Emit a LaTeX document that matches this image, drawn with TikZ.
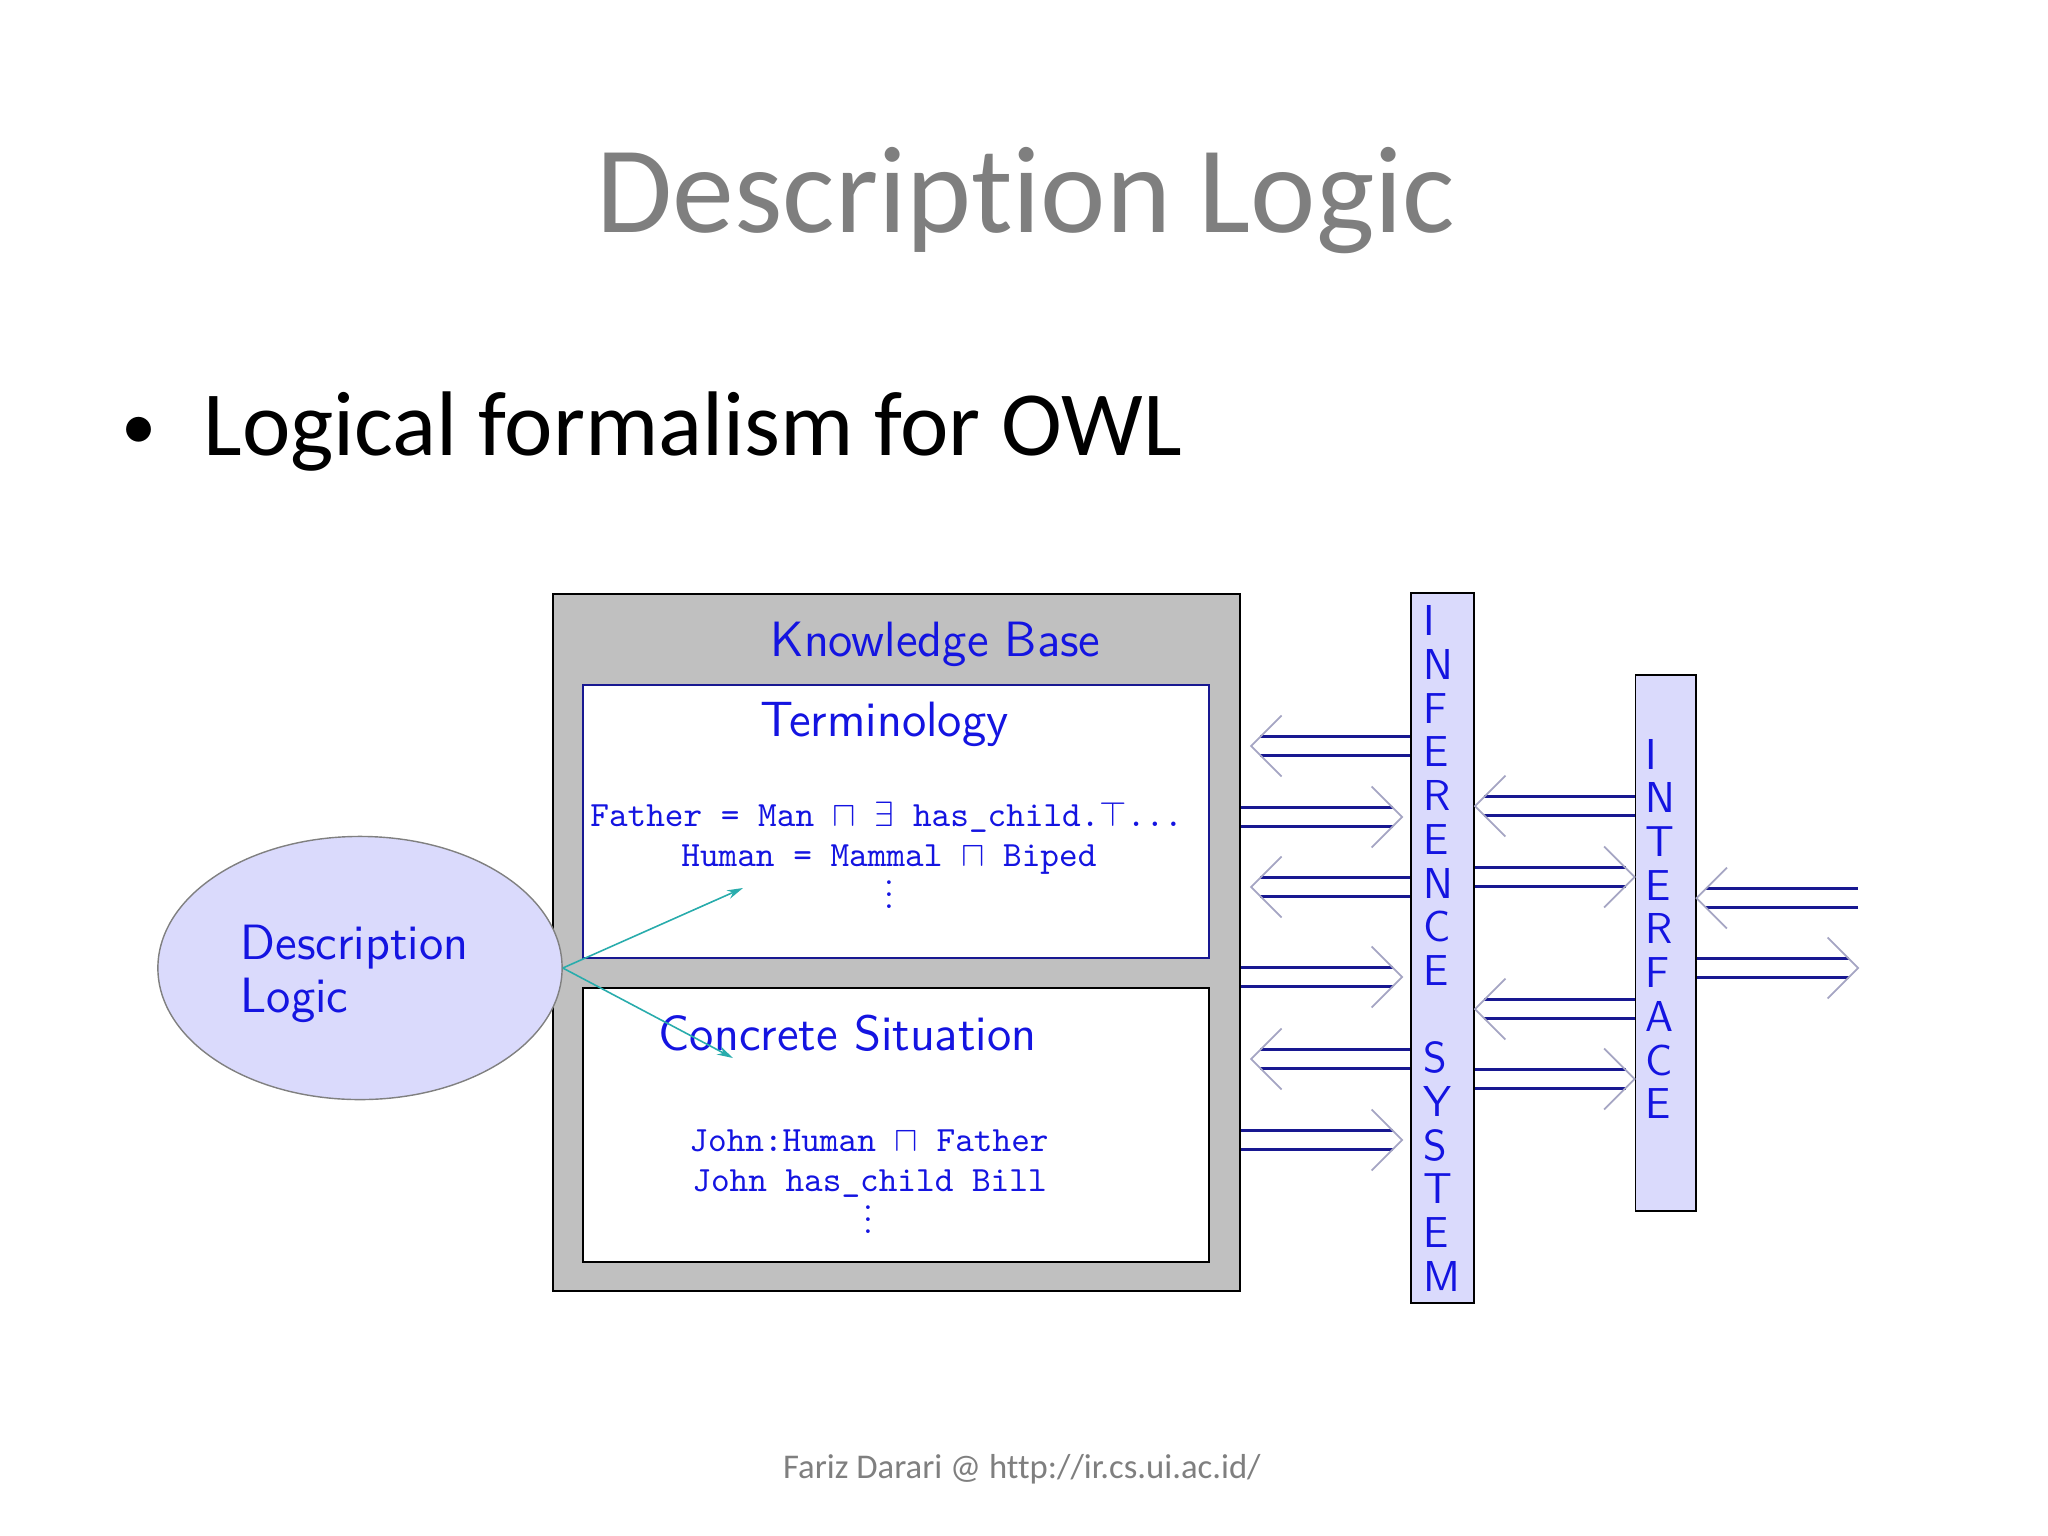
\documentclass[tikz,border=0pt]{standalone}
\usepackage{fontspec}
\newfontfamily\slidefont{Carlito}[Ligatures=NoCommon]
\usetikzlibrary{arrows.meta, positioning, shapes.geometric, calc}

\definecolor{kbgray}{RGB}{192,192,192}
\definecolor{lav}{RGB}{218,218,252}
\definecolor{txtblue}{RGB}{20,20,225}
\definecolor{navy}{RGB}{24,24,145}
\definecolor{chevc}{RGB}{165,165,195}
\definecolor{tealc}{RGB}{40,172,172}
\definecolor{slidegray}{RGB}{127,127,127}

\tikzset{
  box/.style={draw, rectangle, inner sep=0pt, line width=0.55pt},
  vbar/.style={box, fill=lav},
  lbl/.style={inner sep=0pt, anchor=base, text=txtblue, font=\sffamily\fontsize{14.1}{15.2}\selectfont},
  ax/.style={inner sep=0pt, anchor=base, text=txtblue, font=\ttfamily\fontsize{10.1}{12}\selectfont},
  vtext/.style={inner sep=0pt, anchor=north west, align=left, text=txtblue, font=\sffamily\fontsize{12.3}{12.43}\selectfont},
  dbl/.style={draw=navy, line width=0.7pt, double=white, double distance=0.165cm},
  chev/.style={draw=chevc, line width=0.5pt},
  dlarrow/.style={draw=tealc, line width=0.45pt, -{Stealth[length=0.16cm, width=0.09cm]}}
}

% three small dots, baseline at the last one
\newcommand{\vdts}{\vbox{\baselineskip3.3pt\lineskiplimit0pt\hbox{.}\hbox{.}\hbox{.}}}

% double arrow: #1 = start, #2 = tip
\newcommand{\dblarr}[2]{%
  \coordinate (da) at (#1);
  \coordinate (db) at (#2);
  \draw[dbl, shorten >=0.09cm] (da) -- (db);
  \draw[chev] ($(db)!0.43cm!45:(da)$) -- (db) -- ($(db)!0.43cm!-45:(da)$);
}

\begin{document}
\begin{tikzpicture}[x=0.01cm, y=-0.01cm]
  \useasboundingbox (0,0) rectangle (2048,1536);

  % slide texts
  \node[inner sep=0pt, anchor=base, text=slidegray, font=\slidefont\fontsize{35.2}{40}\selectfont] (title) at (1026,232) {Description Logic};
  \node[inner sep=0pt, anchor=base, font=\slidefont\fontsize{20}{24}\selectfont] (bullet) at (139,449) {•};
  \node[inner sep=0pt, anchor=base west, font=\slidefont\fontsize{26.1}{30}\selectfont] (point) at (203,455) {Logical formalism for OWL};
  \node[inner sep=0pt, anchor=base, text=slidegray, font=\slidefont\fontsize{9.86}{12}\selectfont] (footer) at (1022,1478) {Fariz Darari @ http://ir.cs.ui.ac.id/};

  % knowledge base
  \node[box, fill=kbgray, minimum width=6.87cm, minimum height=6.97cm] (kb) at (896.5,942.5) {};
  \node[box, draw=navy, fill=white, minimum width=6.26cm, minimum height=2.73cm] (term) at (896,821.7) {};
  \node[box, fill=white, minimum width=6.26cm, minimum height=2.73cm] (conc) at (896,1125) {};
  \node[lbl] (kblabel) at (935.5,656.7) {Knowledge Base};
  \node[lbl] (termlabel) at (884.4,736.7) {Terminology};
  \node[ax] (father) at (886.6,826.7) {Father = Man $\sqcap$ $\exists$ has\_child.$\top$...};
  \node[ax] (human) at (888.9,866.7) {Human = Mammal $\sqcap$ Biped};
  \node[ax, font=\rmfamily\fontsize{10}{12}\selectfont] (termdots) at (889,908) {\vdts};
  \node[lbl] (conclabel) at (847.6,1050.7) {Concrete Situation};
  \node[ax] (john) at (869,1151.7) {John:Human $\sqcap$ Father};
  \node[ax] (bill) at (869.5,1191) {John has\_child Bill};
  \node[ax, font=\rmfamily\fontsize{10}{12}\selectfont] (concdots) at (868,1233) {\vdts};

  % description logic
  \node[ellipse, draw=gray, line width=0.4pt, fill=lav, minimum width=4.04cm, minimum height=2.63cm, inner sep=0pt] (dl) at (360,968) {};
  \node[lbl, align=left, anchor=north west] (dltext) at (240,924) {Description\\Logic};
  \coordinate (termtgt) at (743,888);
  \coordinate (conctgt) at (733,1058);
  \draw[dlarrow] (dl.east) -- (termtgt);
  \draw[dlarrow] (dl.east) -- (conctgt);

  % inference system and interface
  \node[vbar, minimum width=0.63cm, minimum height=7.1cm] (inf) at (1442.5,948) {};
  \node[vtext] (inftext) at (1423,605) {I\\N\\F\\E\\R\\E\\N\\C\\E\\[12.43pt]S\\Y\\S\\T\\E\\M};
  \node[vbar, minimum width=0.6cm, minimum height=5.36cm] (intf) at (1665.5,943) {};
  \node[vtext] (intftext) at (1644.6,738.3) {I\\N\\T\\E\\R\\F\\A\\C\\E};
  \coordinate (outL) at (1858,898);
  \coordinate (outR) at (1858,968);

  % double arrows
  \foreach \y in {746,887,1059}
    \dblarr{inf.west |- 0,\y}{$(kb.east |- 0,\y)+(10,0)$};
  \foreach \y in {817,977,1140}
    \dblarr{kb.east |- 0,\y}{$(inf.west |- 0,\y)+(-8,0)$};
  \foreach \y in {806,1009}
    \dblarr{intf.west |- 0,\y}{inf.east |- 0,\y};
  \foreach \y in {877,1079}
    \dblarr{inf.east |- 0,\y}{intf.west |- 0,\y};
  \dblarr{outL}{intf.east |- outL};
  \dblarr{intf.east |- outR}{outR};
\end{tikzpicture}
\end{document}
